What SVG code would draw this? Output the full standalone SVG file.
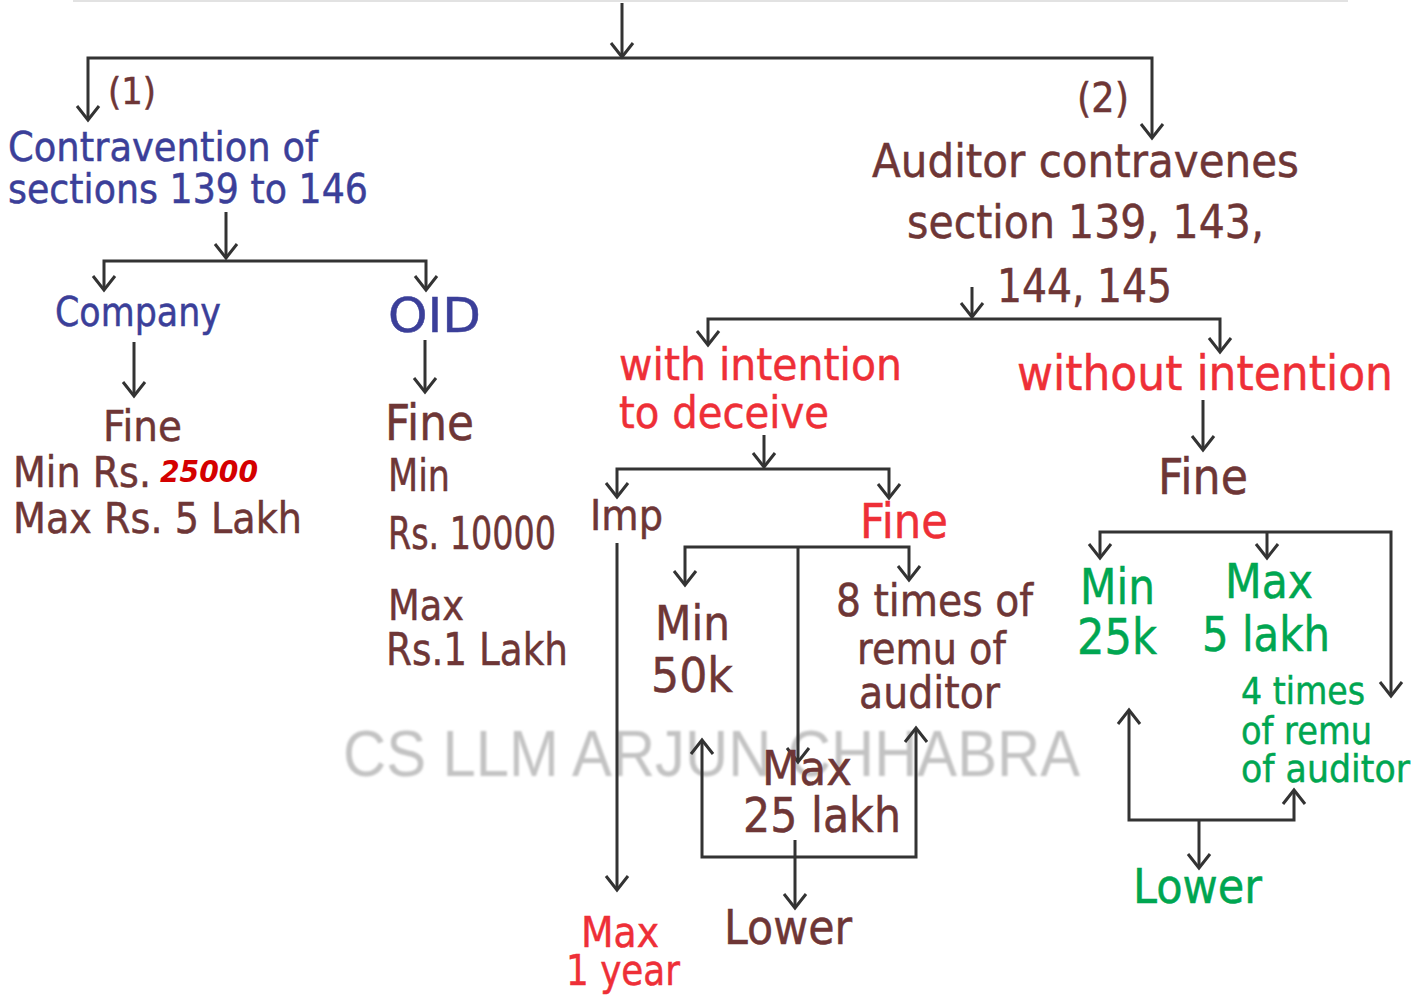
<svg xmlns="http://www.w3.org/2000/svg" width="1426" height="996" viewBox="0 0 1426 996">
<defs>
<marker id="ah" viewBox="-16 -13 20 26" refX="0" refY="0" markerWidth="20" markerHeight="26" markerUnits="userSpaceOnUse" orient="auto">
<path d="M-14,-11 L0,0 L-14,11" fill="none" stroke="#333" stroke-width="3"/>
</marker>
<filter id="soft" x="-5%" y="-20%" width="110%" height="140%"><feGaussianBlur stdDeviation="1.2"/></filter>
<style>
text{font-family:"DejaVu Sans","Noto Sans",sans-serif;stroke-width:0.5}
.b{fill:#3b3f99;stroke:#3b3f99}
.br{fill:#6e3636;stroke:#6e3636}
.r{fill:#ee2f37;stroke:#ee2f37}
.g{fill:#00a651;stroke:#00a651}
.c{fill:none;stroke:#333;stroke-width:3;marker-end:url(#ah)}
</style>
</defs>
<rect width="1426" height="996" fill="#fff"/>
<line x1="73" y1="1" x2="1348" y2="1" stroke="#e2e2e2" stroke-width="2"/>
<g id="watermark"><text x="343" y="776" font-size="64" fill="#c3c3c3" textLength="737" lengthAdjust="spacingAndGlyphs" filter="url(#soft)" style="font-family:'Liberation Sans',sans-serif;stroke:none">CS LLM ARJUN CHHABRA</text></g>
<g id="connectors">
<path class="c" d="M622,3 V57"/>
<path class="c" d="M622,58 H88 V120"/>
<path class="c" d="M622,58 H1152 V138"/>
<path class="c" d="M226,212 V258"/>
<path class="c" d="M226,261 H104 V290"/>
<path class="c" d="M226,261 H426 V290"/>
<path class="c" d="M134,342 V396"/>
<path class="c" d="M425,340 V392"/>
<path class="c" d="M972,287 V317"/>
<path class="c" d="M972,319 H708 V345"/>
<path class="c" d="M972,319 H1220 V352"/>
<path class="c" d="M764,435 V467"/>
<path class="c" d="M764,469 H617 V497"/>
<path class="c" d="M764,469 H889 V498"/>
<path class="c" d="M617,543 V890"/>
<path class="c" d="M798,547 H685 V585"/>
<path class="c" d="M798,547 H909 V580"/>
<path class="c" d="M798,547 V762"/>
<path class="c" d="M795,857 H702 V740"/>
<path class="c" d="M795,857 H916 V728"/>
<path class="c" d="M795,840 V908"/>
<path class="c" d="M1203,400 V450"/>
<path class="c" d="M1267,532 H1100 V558"/>
<path class="c" d="M1267,532 H1391 V696"/>
<path class="c" d="M1267,532 V558"/>
<path class="c" d="M1199,820 H1129 V710"/>
<path class="c" d="M1199,820 H1294 V790"/>
<path class="c" d="M1199,820 V868"/>
</g>
<g id="n1"><text class="br" x="108" y="104" font-size="38" textLength="48" lengthAdjust="spacingAndGlyphs">(1)</text></g>
<g id="contravention">
<text class="b" x="8" y="161" font-size="40" textLength="310" lengthAdjust="spacingAndGlyphs">Contravention of</text>
<text class="b" x="8" y="203" font-size="40" textLength="360" lengthAdjust="spacingAndGlyphs">sections 139 to 146</text>
</g>
<g id="company"><text class="b" x="55" y="326" font-size="40" textLength="166" lengthAdjust="spacingAndGlyphs">Company</text></g>
<g id="oid"><text class="b" x="388" y="332" font-size="48" textLength="93" lengthAdjust="spacingAndGlyphs">OID</text></g>
<g id="company-fine">
<text class="br" x="103" y="441" font-size="42" textLength="79" lengthAdjust="spacingAndGlyphs">Fine</text>
<text class="br" x="13" y="487" font-size="42" textLength="138" lengthAdjust="spacingAndGlyphs">Min Rs.</text>
<text x="160" y="482" font-size="30" font-weight="bold" font-style="italic" fill="#d40000" textLength="98" lengthAdjust="spacingAndGlyphs">25000</text>
<text class="br" x="13" y="533" font-size="42" textLength="289" lengthAdjust="spacingAndGlyphs">Max Rs. 5 Lakh</text>
</g>
<g id="oid-fine">
<text class="br" x="385" y="440" font-size="50" textLength="89" lengthAdjust="spacingAndGlyphs">Fine</text>
<text class="br" x="388" y="491" font-size="45" textLength="62" lengthAdjust="spacingAndGlyphs">Min</text>
<text class="br" x="388" y="549" font-size="45" textLength="168" lengthAdjust="spacingAndGlyphs">Rs. 10000</text>
<text class="br" x="388" y="620" font-size="43" textLength="76" lengthAdjust="spacingAndGlyphs">Max</text>
<text class="br" x="386" y="665" font-size="45" textLength="182" lengthAdjust="spacingAndGlyphs">Rs.1 Lakh</text>
</g>
<g id="n2"><text class="br" x="1077" y="112" font-size="40" textLength="52" lengthAdjust="spacingAndGlyphs">(2)</text></g>
<g id="auditor">
<text class="br" x="872" y="177" font-size="46" textLength="427" lengthAdjust="spacingAndGlyphs">Auditor contravenes</text>
<text class="br" x="907" y="238" font-size="46" textLength="357" lengthAdjust="spacingAndGlyphs">section 139, 143,</text>
<text class="br" x="997" y="302" font-size="46" textLength="175" lengthAdjust="spacingAndGlyphs">144, 145</text>
</g>
<g id="with-intention">
<text class="r" x="619" y="380" font-size="44" textLength="283" lengthAdjust="spacingAndGlyphs">with intention</text>
<text class="r" x="619" y="428" font-size="44" textLength="210" lengthAdjust="spacingAndGlyphs">to deceive</text>
</g>
<g id="without-intention"><text class="r" x="1017" y="390" font-size="48" textLength="376" lengthAdjust="spacingAndGlyphs">without intention</text></g>
<g id="imp"><text class="br" x="590" y="530" font-size="42" textLength="73" lengthAdjust="spacingAndGlyphs">Imp</text></g>
<g id="fine-red"><text class="r" x="860" y="538" font-size="48" textLength="88" lengthAdjust="spacingAndGlyphs">Fine</text></g>
<g id="fine-right"><text class="br" x="1158" y="494" font-size="50" textLength="90" lengthAdjust="spacingAndGlyphs">Fine</text></g>
<g id="min50k">
<text class="br" x="655" y="640" font-size="48" textLength="75" lengthAdjust="spacingAndGlyphs">Min</text>
<text class="br" x="651" y="692" font-size="48" textLength="82" lengthAdjust="spacingAndGlyphs">50k</text>
</g>
<g id="eight-times">
<text class="br" x="836" y="616" font-size="44" textLength="197" lengthAdjust="spacingAndGlyphs">8 times of</text>
<text class="br" x="857" y="664" font-size="44" textLength="149" lengthAdjust="spacingAndGlyphs">remu of</text>
<text class="br" x="859" y="708" font-size="44" textLength="141" lengthAdjust="spacingAndGlyphs">auditor</text>
</g>
<g id="max25">
<text class="br" x="762" y="785" font-size="48" textLength="90" lengthAdjust="spacingAndGlyphs">Max</text>
<text class="br" x="743" y="832" font-size="48" textLength="158" lengthAdjust="spacingAndGlyphs">25 lakh</text>
</g>
<g id="lower-brown"><text class="br" x="724" y="944" font-size="48" textLength="128" lengthAdjust="spacingAndGlyphs">Lower</text></g>
<g id="max1year">
<text class="r" x="581" y="947" font-size="42" textLength="78" lengthAdjust="spacingAndGlyphs">Max</text>
<text class="r" x="566" y="985" font-size="42" textLength="114" lengthAdjust="spacingAndGlyphs">1 year</text>
</g>
<g id="min25k">
<text class="g" x="1080" y="604" font-size="50" textLength="75" lengthAdjust="spacingAndGlyphs">Min</text>
<text class="g" x="1077" y="654" font-size="50" textLength="80" lengthAdjust="spacingAndGlyphs">25k</text>
</g>
<g id="max5lakh">
<text class="g" x="1225" y="598" font-size="48" textLength="88" lengthAdjust="spacingAndGlyphs">Max</text>
<text class="g" x="1202" y="651" font-size="48" textLength="128" lengthAdjust="spacingAndGlyphs">5 lakh</text>
</g>
<g id="four-times">
<text class="g" x="1241" y="704" font-size="37" textLength="124" lengthAdjust="spacingAndGlyphs">4 times</text>
<text class="g" x="1241" y="744" font-size="37" textLength="131" lengthAdjust="spacingAndGlyphs">of remu</text>
<text class="g" x="1241" y="782" font-size="37" textLength="169" lengthAdjust="spacingAndGlyphs">of auditor</text>
</g>
<g id="lower-green"><text class="g" x="1133" y="903" font-size="48" textLength="129" lengthAdjust="spacingAndGlyphs">Lower</text></g>
</svg>
